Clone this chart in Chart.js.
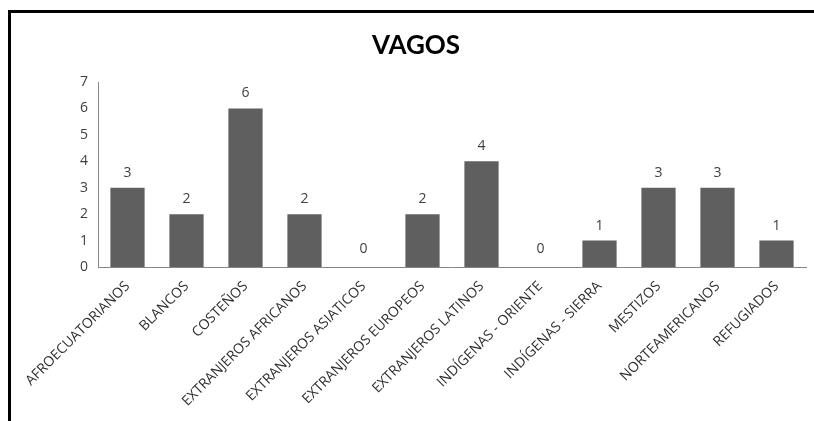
<!DOCTYPE html>
<html>
<head>
<meta charset="utf-8">
<script src="https://cdn.jsdelivr.net/npm/chart.js@4/dist/chart.umd.min.js"></script>
<style>
  html, body { margin: 0; padding: 0; background: #fff; }
  #wrap { position: relative; width: 814px; height: 421px; overflow: hidden; }
  #frame { position: absolute; left: 8px; top: 10px; width: 900px; height: 500px;
           border-left: 3px solid #000; border-top: 3px solid #000; pointer-events: none; }
  canvas { position: absolute; left: 0; top: 0; }
</style>
</head>
<body>
<div id="wrap">
  <canvas id="c" width="814" height="421"></canvas>
  <div id="frame"></div>
</div>
<script>
const categories = [
  "AFROECUATORIANOS", "BLANCOS", "COSTEÑOS", "EXTRANJEROS AFRICANOS",
  "EXTRANJEROS ASIATICOS", "EXTRANJEROS EUROPEOS", "EXTRANJEROS LATINOS",
  "INDÍGENAS - ORIENTE", "INDÍGENAS - SIERRA", "MESTIZOS",
  "NORTEAMERICANOS", "REFUGIADOS"
];
const values = [3, 2, 6, 2, 0, 2, 4, 0, 1, 3, 3, 1];
const yTicks = [0, 1, 2, 3, 4, 5, 6, 7];
const chartTitle = "VAGOS";

const titleAndLabels = {
  id: 'titleAndLabels',
  afterDraw(chart) {
    const ctx = chart.ctx;
    ctx.save();
    ctx.font = 'bold 26px Lato, "Open Sans", sans-serif';
    ctx.fillStyle = '#000';
    ctx.textAlign = 'center';
    ctx.textBaseline = 'middle';
    ctx.fillText(chartTitle, 416, 46);
    ctx.restore();
  },
  afterDatasetsDraw(chart) {
    const ctx = chart.ctx;
    const meta = chart.getDatasetMeta(0);
    ctx.save();
    ctx.font = '14px "Open Sans", Lato, sans-serif';
    ctx.fillStyle = '#404040';
    ctx.textAlign = 'center';
    ctx.textBaseline = 'bottom';
    meta.data.forEach((bar, i) => {
      const off = values[i] === 0 ? 11 : 8;
      ctx.fillText(String(values[i]), bar.x, bar.y - off);
    });
    ctx.restore();
  }
};

new Chart(document.getElementById('c'), {
  type: 'bar',
  data: {
    labels: categories,
    datasets: [{
      data: values,
      backgroundColor: '#5f5f5f',
      borderWidth: 0,
      categoryPercentage: 1.0,
      barPercentage: 0.58
    }]
  },
  options: {
    responsive: false,
    animation: false,
    devicePixelRatio: 1,
    layout: { padding: { left: 0, right: 8, top: 82, bottom: 0 } },
    plugins: {
      legend: { display: false },
      tooltip: { enabled: false },
      title: { display: false }
    },
    scales: {
      x: {
        grid: { display: false, drawTicks: false },
        border: { display: true, color: '#868686', width: 1 },
        ticks: {
          minRotation: 45, maxRotation: 45, autoSkip: false,
          color: '#303030', padding: 11,
          font: { family: '"Open Sans", Lato, sans-serif', size: 14 }
        },
        afterFit(scale) { scale.height = 154; }
      },
      y: {
        min: 0, max: 7,
        afterBuildTicks(scale) { scale.ticks = yTicks.map(v => ({ value: v })); },
        grid: { display: false, drawTicks: false },
        border: { display: true, color: '#868686', width: 1 },
        ticks: {
          color: '#404040', padding: 10,
          font: { family: '"Open Sans", Lato, sans-serif', size: 14 }
        },
        afterFit(scale) { scale.width = 98; }
      }
    }
  },
  plugins: [titleAndLabels]
});
</script>
</body>
</html>
